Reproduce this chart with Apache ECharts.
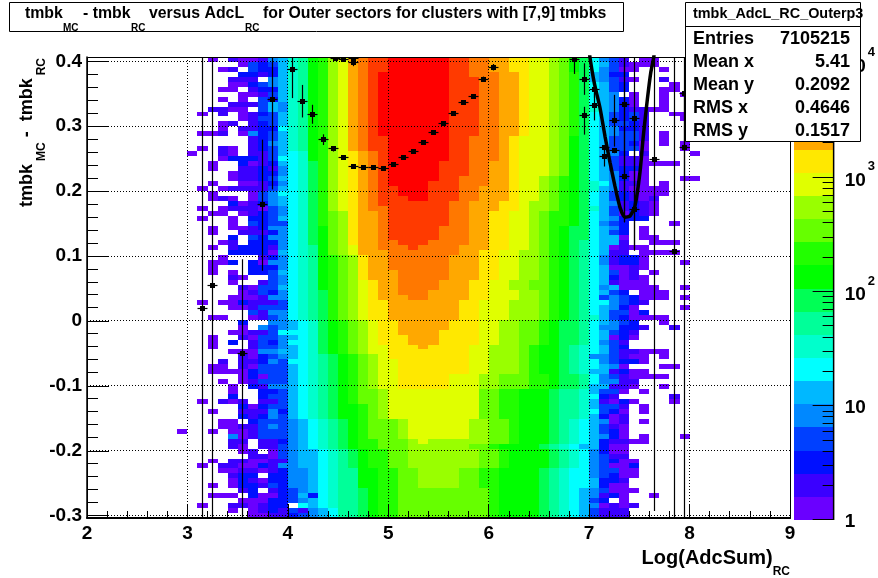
<!DOCTYPE html>
<html><head><meta charset="utf-8">
<style>html,body{margin:0;padding:0;background:#fff}#c{width:878px;height:578px}</style>
<script src="https://cdn.jsdelivr.net/npm/echarts@6/dist/echarts.min.js"></script>
</head><body><div id="c"></div>
<script>
const FONT = 'Liberation Sans';
// palette: index = colour level, lowest counts first
const levelColors = ['#6a00ff','#3a00ff','#0010ff','#0040ff','#0088ff','#00b8ff','#00ffff','#00ffcc','#00ff99','#00ff55','#00ff00','#22ff00','#66ff00','#99ff00','#e0ff00','#ffe800','#ffa800','#ff7800','#ff3a00','#ff0000'];
const levelKeys = '0123456789abcdefghij';
// colour scale, in log10(count)
const colorMaxLog = 4.054;
const colorTicks = [0,1,2,3,4];
// histogram binning
const xFirstBin = 2.9, xBinW = 0.1;
const yTop = 0.4066, yBottom = -0.3035, yRows = 93;
// Level read per cell, top row first. heatLeft: x 2.9-4.0, heatMid: x 4.0-7.0, heatRight: x 7.0-8.1
const heatLeft = ["...0.100145","......03235","....01.3225","......22125",".....111.45",".....002345","....00.1225","......00135","....0.0.325",".....111354","...1100.354","..0.1.01235","......01335","....01.1235","....0.11226","..001.04235",".......1235",".......1245","..0.10.1235",".0..10.1135","....0222136","...0..20125","...0..11214",".....011224",".....011235","...0..00124","..0.0111135","...0...0346","...010.0345",".....201245","..0.0111034","...00.01234","..0..0.2235",".....0.3233","...0.001244","...0..11124",".....2.3244","....01.2224","...0.122214",".....222205","....0...124","...002.2044","...0...2224","...0.0.2235",".....10..34",".....0..134","......10335","......01324",".....000144","..0.0021113",".....001333",".......3144","...00..0134","......2..44","......0.434",".....001136","...0..10334","...0.2.1324","...0...1334",".....000445","......10234","....1.11243","...00.10333","...00002333","......02033","....0.01333",".....0.2144",".....0..223",".....2..233","..0.101.113","......20233","...0..11142","......21243","....00.2333","....0011343","0..0.001333",".....401333",".....11.112",".....10.113","......01.03",".......1103","...0.110011","..0.1100214","....0011012",".....122.22",".....021022","...0.022132","......12.12","...000.2002","......00022","..0..110122",".....0.0121",".......0011"];
const heatMid = [
"78abdeghiijjjjjjiihhggffeedca9","78abdeghiijjjjjjiihhggffeedca9","78abdeghiijjjjjjiihhggffeedca9","78abdeghijjjjjjjiihhhggfeedcb9",
"78abdeghijjjjjjjiiihhggfeedcb9","78abdeghijjjjjjjiiihhggfeedcb9","78abdeghijjjjjjjiiihhggfeedcb9","78abdeghijjjjjjjiiihhggfeedcb9","78abdeghijjjjjjjiiihhggfeedcb9","78abdeghijjjjjjjiiihhggfeedcb9","78abdeghijjjjjjjiiihhggfeedcb9","78abdeghijjjjjjjiiihhggfeedcb9","78abdeghijjjjjjjiiihhggfeedcb9","78abdeghijjjjjjjiiihhggfeedcb9","78abdeghijjjjjjjiiihhggfeedcb9","78abdeghijjjjjjjiiihhggfeedcb9",
"78abdeghiijjjjjjiihhhgfeeedca9","78abdeghiijjjjjjiihhhgfeeedca9","78abdeghiijjjjjjiihhhgfeeedca9",
"67abdefghijjjjjjiihhhgfeeedca9","67abdefghijjjjjjiihhhgfeeedca9",
"679bdefghijjjjjiiihhggfeeedca9","679bdefghijjjjjiiihhggfeeedca9","679bdefghijjjjjiiihhggfeeedca9",
"679bdefghijjjjjiihhhggfeedcba9","679bdefghijjjjiiihhhggfeedcba9","679bdefghiijjjiiihhgggfeedcba9","679bdefghiijjjiiihhgggfeedcba9","679bdefghiiijjiiihhgggfeedcba9",
"679bdefghiiiiiiihhgggffeddcba9","679bdefghhiiiiiihhgggffeddcba9",
"679bcdfgghiiiiiihhggffeedcbba9","679bcdfgghiiiiiihhggffeedcbba9","679bcdfgghiiiiiihhggffeedcbba9",
"679acdfgghiiiiihhhggffeedcba99","679acdfgghiiiiihhhggffeedcba99","679acdfgghiiiiihhhggffeedcba99",
"679acdfgghhiiihhhhggffeedcba98","678acdegghhhihhhhgggffeedcba98","678acdeggghhhhhhhggffeeddcba98",
"678abcdfgghhhhhhgggffeeddcba98","678abcdfgghhhhhhgggffeeddcba98","678abcdfgghhhhhhgggffeeddcba98",
"678abcdfggghhhhhgggffeeddcba98","678abcdfggghhhhhgggffeeddcba98",
"678abcdefgghhhhgggffeeddccba98","678abcdefgghhhhgggffeeddccba98",
"6789bcdefgghhhggggffeeeddcba98","6789bcdefggghhggggffeeeddcba98",
"6789bcdeffgggggggffeeedddcba98","6789bcdeffgggggggffeeedddcba98","6789bcdeffgggggggffeeedddcba98","6789bcdeffgggggggffeeedddcba98",
"5679abcdeffgggggfffeeddccba998","5679abcdeffgggggfffeeddccba998","6679abcdeffggggffffeeddccba998","5679abcdefffgggffffeeddccba998","6679abcdefffgggffffeeddccba998",
"5679abcdeefffgffffeedddcbaa987","5679abcdeeffffffffeedddcbaa987","56789abcdeffffffffeedddcbaa987","66789abcdeefffffffeedddcbaa987","56789abcdeefffffffeedddcbaa987","56789abcdeefffffffeedddcbaa987",
"56789abcdeefffffeeeddcccbba998","56789abcdeefffffeeeddcccbba998","56789abcdeefffffeeeddcccbba998",
"56789abccdeeeeeeeeeccbbaaa9887","56789abccdeeeeeeeeeccbbaaa9887","56789abccdeeeeeeeeeccbbaaa9887",
"56789aabcdeeeeeeeeeccbbaaa9887","56789aabcdeeeeeeeeeccbbaaa9887","56789aabcdeeeeeeeeeccbbaaa9887",
"456789abcccdeeeeeeddccbaaa9876","456789abcccdeeeeeeddccbaaa9876","456789abcccdeeeeeeddccbaaa9876","456789abcccdeeeeeeddccbaaa9876",
"456789abbcccdeddddddccbaaa9876","456789abbcccddddddccbaaaa98765",
"4556789abbccdddddddccbaaaa9876","4556789abbccdddddddccbaaaa9876","4556789abbccdddddddccbaaaa9876","4556789abbccdddddddccbaaaa9876",
"4456788aabbccddddccbbaaaa98766","4456788aabbccddddccbbaaaa98766","4456788aabbccddddccbbaaaa98766","4456788aabbccddddccbbaaaa98766",
"34567889abbcccccccccbaaaa98765","35267889abbcccccccccbaaaa98765","34567889abbcccccccccbaaaa98765",".6567889abbcccccccccbaaaa98765","31456889abbcccccccccbaaaa98765","23456889abbcccccccccbaaaa98765"];
const heatRight = ["6431.00....","6531000....","64300..0...","5422.......","54310..1...","6532....0..","6532...00..","654.0..0.0.","65420..0...","65420..0...","75421100...","653231..00.","653231...00","653321....0","654221.....","654331.0...","653331.0...","653320.0.0.","653330...0.","6542.1....0","653110.....","653110000..","653220.....","654200.....","654200...00","764110.0...","75410000...","65321000...","6532101....","6541210....","7531210....","6530210....","654222.....","6432....0..","6542.0.....","6532.0.....","6550.00....","6551..000..","650100.....","6511.0000..","641220.....","641220...0.","650010.....","65301.0....","652010.....","651000.....","6450000..0.",
"6532.000...","63432000.0.","664321.....","65420....0.","653302.....","75320000...","65432..0...","644221..1..","65321......","65020......","6431.......","6532.......","65311000...","443100.0...","643220.....","6540...00..","551200.....","64310000...","64411......","55110..0...","5330.0.....","621.....1..","51020...0..","5331.0.....","6320.0.....","5201.......","5401.0.....","5310.......","5320.......","5420.0...0.","521100.....","5200.......","4200.......","4311.......","43200......","43002......","43300......","43200......","5221.......","5200.......","43000......","4120..0....","32.0.......","40101......","3111.......","3111......."];
// profile points: x, y, lower and upper end of the error bar
const profileX = [3.15,3.25,3.55,3.75,3.85,4.05,4.15,4.25,4.35,4.45,4.55,4.65,4.75,4.85,4.95,5.05,5.15,5.25,5.35,5.45,5.55,5.65,5.75,5.85,5.95,6.05,4.65,4.47,4.55,4.65,6.85,6.95,6.95,7.05,7.05,7.15,7.15,7.25,7.25,7.35,7.35,7.45,7.45,7.65,7.85,7.95,7.95];
const profileY = [0.0186,0.0543,-0.0494,0.1791,0.3417,0.3877,0.338,0.3187,0.2793,0.265,0.2512,0.2374,0.2359,0.2359,0.2344,0.2405,0.2512,0.2604,0.2742,0.2896,0.3049,0.3202,0.3371,0.3463,0.3724,0.3908,0.3985,0.405,0.4035,0.405,0.403,0.3724,0.3161,0.356,0.3314,0.2666,0.2528,0.3084,0.2624,0.334,0.223,0.3126,0.1719,0.2486,0.107,0.3509,0.2666];
const profileLow = [-0.305,-0.305,-0.305,0.0773,0.2026,0.3433,0.3135,0.3038,0.271,0.261,0.2492,0.2364,0.2354,0.2354,0.2339,0.24,0.2507,0.26,0.2737,0.2892,0.3045,0.3197,0.3367,0.3458,0.3684,0.3858,0.3925,0.405,0.4035,0.405,0.3805,0.3483,0.287,0.3437,0.3089,0.2626,0.2379,0.2686,0.2584,0.152,0.152,0.1106,0.108,-0.2928,-0.305,0.2,-0.305];
const profileHigh = [0.41,0.41,0.0952,0.2793,0.41,0.41,0.3636,0.333,0.2875,0.269,0.2532,0.2384,0.2364,0.2364,0.2349,0.241,0.2517,0.2608,0.2747,0.29,0.3053,0.3207,0.3375,0.3468,0.3764,0.3958,0.4045,0.405,0.4035,0.405,0.41,0.3969,0.3299,0.3683,0.3518,0.2706,0.264,0.3483,0.2664,0.41,0.41,0.41,0.3,0.41,0.41,0.41,0.35];
// fitted curve
const fitX = [7.0,7.008,7.051,7.108,7.158,7.208,7.257,7.307,7.357,7.407,7.456,7.506,7.539,7.579,7.613,7.643,7.66];
const fitY = [0.42,0.4061,0.3667,0.3284,0.2844,0.244,0.2077,0.175,0.1597,0.1617,0.177,0.2287,0.2844,0.3406,0.3821,0.4061,0.43];
// axes
const xTicks = [3,4,5,6,7,8];
const yTicks = [-0.3,-0.2,-0.1,0,0.1,0.2,0.3,0.4];
const yMinor = [-0.28,-0.26,-0.24,-0.22,-0.18,-0.16,-0.14,-0.12,-0.08,-0.06,-0.04,-0.02,0.02,0.04,0.06,0.08,0.12,0.14,0.16,0.18,0.22,0.24,0.26,0.28,0.32,0.34,0.36,0.38];
// stats box
const statNames = ['Entries','Mean x','Mean y','RMS x','RMS y'];
const statValues = ['7105215','5.41','0.2092','0.4646','0.1517'];
const statRowTops = [30,53,76,99,122];

const yBinH = (yTop - yBottom) / yRows;
const cells = [];
heatLeft.forEach((_, r) => {
  const row = heatLeft[r] + heatMid[r] + heatRight[r];
  for (let c = 0; c < row.length; c++) {
    const lvl = levelKeys.indexOf(row[c]);
    if (lvl >= 0) cells.push([xFirstBin + c * xBinW, yTop - (r + 1) * yBinH, lvl]);
  }
});
const profile = profileX.map((x, i) => [x, profileY[i], profileLow[i], profileHigh[i]]);
const fit = fitX.map((x, i) => [x, fitY[i]]);
const colorCells = levelColors.map((col, i) => [i * colorMaxLog / 20, (i + 1) * colorMaxLog / 20, i]);
const colorTickList = colorTicks.map(v => [v, 21]);
for (let d = 0; d < 4; d++) for (let m = 2; m < 10; m++) { const v = d + Math.log10(m); if (v < colorMaxLog) colorTickList.push([v, 11]); }

const crisp = v => Math.round(v - 0.5) + 0.5;
function renderCell(params, api) {
  const x = api.value(0), y = api.value(1);
  const a = api.coord([x, y + yBinH]), b = api.coord([x + xBinW, y]);
  const x0 = Math.round(a[0]), y0 = Math.round(a[1]), x1 = Math.round(b[0]), y1 = Math.round(b[1]);
  return {type:'rect', shape:{x:x0,y:y0,width:x1-x0,height:y1-y0}, style:{fill:levelColors[api.value(2)]}};
}
function renderVGrid(params, api) {
  const p = api.coord([api.value(0), 0]), s = params.coordSys, x = crisp(p[0]);
  return {type:'line', shape:{x1:x,y1:s.y,x2:x,y2:s.y+s.height}, style:{stroke:'#000',lineWidth:1,lineDash:[1,2]}};
}
function renderHGrid(params, api) {
  const p = api.coord([2, api.value(0)]), s = params.coordSys, y = crisp(p[1]);
  return {type:'line', shape:{x1:s.x,y1:y,x2:s.x+s.width,y2:y}, style:{stroke:'#000',lineWidth:1,lineDash:[1,2]}};
}
function renderYMinor(params, api) {
  const p = api.coord([2, api.value(0)]), s = params.coordSys, y = crisp(p[1]);
  return {type:'line', shape:{x1:s.x,y1:y,x2:s.x+11,y2:y}, style:{stroke:'#000',lineWidth:1}};
}
function renderPoint(params, api) {
  const x = api.value(0), p = api.coord([x, api.value(1)]);
  const lo = api.coord([x, api.value(2)]), hi = api.coord([x, api.value(3)]);
  const cx = crisp(p[0]), cy = crisp(p[1]);
  return {type:'group', children:[
    {type:'line', shape:{x1:cx,y1:lo[1],x2:cx,y2:hi[1]}, style:{stroke:'#000',lineWidth:1.2}},
    {type:'line', shape:{x1:cx-5,y1:cy,x2:cx+5,y2:cy}, style:{stroke:'#000',lineWidth:1.2}},
    {type:'rect', shape:{x:cx-2.5,y:cy-2.5,width:5,height:5}, style:{fill:'#000'}}
  ]};
}
function renderFrame(params) {
  const s = params.coordSys;
  return {type:'rect', shape:{x:s.x+0.5,y:s.y+0.5,width:s.width,height:s.height}, style:{fill:'none',stroke:'#000',lineWidth:1}};
}
function renderColorCell(params, api) {
  const a = api.coord([0, api.value(1)]), b = api.coord([1, api.value(0)]);
  const x0 = Math.round(a[0]), y0 = Math.round(a[1]), x1 = Math.round(b[0]), y1 = Math.round(b[1]);
  return {type:'rect', shape:{x:x0,y:y0,width:x1-x0,height:y1-y0}, style:{fill:levelColors[api.value(2)]}};
}
const titleParts = [
  ['tmbk',25,6,15.85],['MC',63,23,10],['- tmbk',83,6,15.85],['RC',131,23,10],['versus AdcL',149,6,15.85],['RC',245,23,10],['for Outer sectors for clusters with [7,9] tmbks',263,6,15.85]
];
const baseGraphics = [
  {type:'rect', z:1, shape:{x:9.5,y:2.5,width:614,height:29}, style:{fill:'#fff',stroke:'#000',lineWidth:1}},
  {type:'rect', z:100, shape:{x:685.5,y:2.5,width:175,height:139}, style:{fill:'#fff',stroke:'#000',lineWidth:1}},
  {type:'line', z:101, shape:{x1:685,y1:26.5,x2:861,y2:26.5}, style:{stroke:'#000',lineWidth:1}},
  {type:'text', z:101, left:693, top:7, style:{text:'tmbk_AdcL_RC_Outerp3', font:'bold 14.4px "'+FONT+'"', fill:'#000'}}
];
statNames.forEach((n, i) => {
  baseGraphics.push({type:'text', z:101, left:693, top:statRowTops[i], style:{text:n, font:'bold 18px "'+FONT+'"', fill:'#000'}});
  baseGraphics.push({type:'text', z:101, right:28, top:statRowTops[i], style:{text:statValues[i], font:'bold 18px "'+FONT+'"', fill:'#000'}});
});
const option = {
  animation:false, backgroundColor:'#fff', textStyle:{fontFamily:FONT},
  title: titleParts.map(t => ({text:t[0], left:t[1], top:t[2], padding:0, textStyle:{fontFamily:FONT,fontWeight:'bold',fontSize:t[3],color:'#000'}})),
  grid:[{left:87,top:57,width:703,height:463,containLabel:false},{left:794,top:57,width:40,height:463}],
  xAxis:[{gridIndex:0,type:'value',min:2,max:9,interval:1,z:20,
    name:'{m|Log(AdcSum)}{s|RC}',nameLocation:'end',nameGap:0,
    nameTextStyle:{align:'right',verticalAlign:'top',padding:[28,0,0,0],rich:{
      m:{fontFamily:FONT,fontWeight:'bold',fontSize:20,color:'#000',lineHeight:32,verticalAlign:'top',height:24},
      s:{fontFamily:FONT,fontWeight:'bold',fontSize:12,color:'#000',lineHeight:32,verticalAlign:'bottom'}}},
    axisLine:{onZero:false,lineStyle:{color:'#000',width:2}},
    axisTick:{inside:true,length:14,lineStyle:{color:'#000',width:1}},
    minorTick:{show:true,splitNumber:5,length:7,lineStyle:{color:'#000',width:1}},
    axisLabel:{margin:6,fontFamily:FONT,fontWeight:'bold',fontSize:19,color:'#000',showMinLabel:true,showMaxLabel:true},
    splitLine:{show:false}},
    {gridIndex:1,type:'value',min:0,max:1,show:false}],
  yAxis:[{gridIndex:0,type:'value',min:yBottom,max:yTop,z:20,
    name:'{m|tmbk}{s|MC}{m| -  tmbk}{s|RC}',nameLocation:'end',nameGap:-1,nameRotate:90,
    nameTextStyle:{align:'right',verticalAlign:'bottom',padding:[0,0,39,0],rich:{
      m:{fontFamily:FONT,fontWeight:'bold',fontSize:18,color:'#000',lineHeight:32,verticalAlign:'top',height:22},
      s:{fontFamily:FONT,fontWeight:'bold',fontSize:12,color:'#000',lineHeight:32,verticalAlign:'bottom',padding:[0,0,0,3]}}},
    axisLine:{onZero:false,lineStyle:{color:'#000',width:1.5}},
    axisTick:{inside:true,length:22,customValues:yTicks,lineStyle:{color:'#000',width:1}},
    axisLabel:{customValues:yTicks,margin:5,padding:[3,0,0,0],fontFamily:FONT,fontWeight:'bold',fontSize:19,color:'#000',formatter:v=>String(Math.round(v*10)/10)},
    splitLine:{show:false}},
    {gridIndex:1,type:'value',min:0,max:colorMaxLog,position:'right',z:20,
    axisLine:{show:false},
    axisTick:{show:false,customValues:colorTicks},
    axisLabel:{show:true,customValues:colorTicks,margin:11,padding:[0,0,4,0],
      formatter:v=>v===0?'{b|1}':v===1?'{b|10}':'{b|10}{s|'+v+'}',
      rich:{b:{fontFamily:FONT,fontWeight:'bold',fontSize:19,color:'#000',lineHeight:26,verticalAlign:'bottom'},
            s:{fontFamily:FONT,fontWeight:'bold',fontSize:13,color:'#000',lineHeight:30,verticalAlign:'top',padding:[0,0,0,2]}}},
    splitLine:{show:false}}],
  graphic:{elements:baseGraphics},
  series:[
    {name:'counts',type:'custom',xAxisIndex:0,yAxisIndex:0,z:2,clip:true,coordinateSystem:'cartesian2d',encode:{x:0,y:1},data:cells,renderItem:renderCell,silent:true},
    {type:'custom',xAxisIndex:0,yAxisIndex:0,z:3,encode:{x:0},data:xTicks.map(v=>[v]),renderItem:renderVGrid,silent:true},
    {type:'custom',xAxisIndex:0,yAxisIndex:0,z:3,encode:{y:0},data:yTicks.map(v=>[v]),renderItem:renderHGrid,silent:true},
    {type:'custom',xAxisIndex:0,yAxisIndex:0,z:21,encode:{y:0},data:yMinor.map(v=>[v]),renderItem:renderYMinor,silent:true},
    {name:'profile',type:'custom',xAxisIndex:0,yAxisIndex:0,z:4,clip:true,encode:{x:0,y:1},data:profile,renderItem:renderPoint,silent:true},
    {name:'fit',type:'line',xAxisIndex:0,yAxisIndex:0,z:5,clip:true,showSymbol:false,smooth:0.2,data:fit,lineStyle:{color:'#000',width:3.5},silent:true},
    {type:'custom',xAxisIndex:0,yAxisIndex:0,z:6,data:[[0]],renderItem:renderFrame,silent:true},
    {name:'palette',type:'custom',xAxisIndex:1,yAxisIndex:1,z:2,encode:{y:[0,1]},data:colorCells,renderItem:renderColorCell,silent:true}
  ]
};
const chart = echarts.init(document.getElementById('c'), null, {renderer:'canvas', width:878, height:578});
chart.setOption(option);
// colour-scale ticks, placed through the colour axis' own scale
const barRight = chart.convertToPixel({xAxisIndex:1}, 1);
const colorTickEls = colorTickList.map(t => {
  const y = Math.min(crisp(chart.convertToPixel({yAxisIndex:1}, t[0])), 519.5);
  return {type:'line', z:50, shape:{x1:barRight-t[1],y1:y,x2:barRight,y2:y}, style:{stroke:'#000',lineWidth:1}};
});
const barEdge = {type:'line', z:50, shape:{x1:barRight,y1:chart.convertToPixel({yAxisIndex:1}, colorMaxLog),x2:barRight,y2:chart.convertToPixel({yAxisIndex:1}, 0)}, style:{stroke:'#000',lineWidth:1.5}};
chart.setOption({graphic:{elements:baseGraphics.concat(colorTickEls,[barEdge])}});
</script></body></html>
